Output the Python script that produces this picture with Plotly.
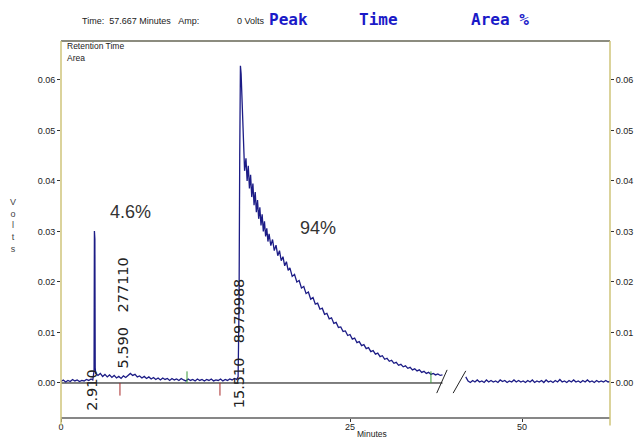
"""Chromatogram trace with a broken time axis."""
import plotly.graph_objects as go

# --- data ------------------------------------------------------------------
# detector trace before the axis break (minutes, volts)
left_t = [
    0.0, 0.2, 0.4, 0.6, 0.8, 1.0, 1.2, 1.4, 1.6, 1.8, 2.0, 2.2, 2.4, 2.6, 2.75,
    2.82, 2.86, 2.89, 2.93, 2.96, 3.0, 3.2, 3.4, 3.6, 3.8, 4.0, 4.2, 4.4, 4.6,
    4.8, 5.0, 5.2, 5.4, 5.6, 5.8, 6.0, 6.2, 6.4, 6.6, 6.8, 7.0, 7.2, 7.4, 7.6,
    7.8, 8.0, 8.2, 8.4, 8.6, 8.8, 9.0, 9.2, 9.4, 9.6, 9.8, 10.0, 10.2, 10.4,
    10.6, 10.8, 11.0, 11.2, 11.4, 11.6, 11.8, 12.0, 12.2, 12.4, 12.6, 12.8,
    13.0, 13.2, 13.4, 13.6, 13.8, 14.0, 14.2, 14.4, 14.6, 14.8, 15.0, 15.2,
    15.32, 15.40, 15.46, 15.52, 15.58, 15.66, 15.76, 15.88, 16.0, 16.1, 16.2,
    16.3, 16.4, 16.5, 16.6, 16.7, 16.8, 16.9, 17.0, 17.1, 17.2, 17.3, 17.4,
    17.5, 17.6, 17.7, 17.8, 17.9, 18.0, 18.15, 18.3, 18.45, 18.6, 18.75, 18.9,
    19.05, 19.2, 19.35, 19.5, 19.65, 19.8, 20.0, 20.2, 20.4, 20.6, 20.8, 21.0,
    21.2, 21.4, 21.6, 21.8, 22.0, 22.2, 22.4, 22.6, 22.8, 23.0, 23.2, 23.4,
    23.6, 23.8, 24.0, 24.2, 24.4, 24.6, 24.8, 25.0, 25.2, 25.4, 25.6, 25.8,
    26.0, 26.2, 26.4, 26.6, 26.8, 27.0, 27.2, 27.4, 27.6, 27.8, 28.0, 28.2,
    28.4, 28.6, 28.8, 29.0, 29.2, 29.4, 29.6, 29.8, 30.0, 30.2, 30.4, 30.6,
    30.8, 31.0, 31.2, 31.4, 31.6, 31.8, 32.0, 32.2, 32.4, 32.6, 32.8, 33.0,
]
left_v = [
    0.0003, 0.0006, 0.0002, 0.0005, 0.0003, 0.0007, 0.0004, 0.0006, 0.0003,
    0.0005, 0.0004, 0.0007, 0.0005, 0.0008, 0.0006,
    0.0020, 0.0024, 0.0301, 0.0285, 0.0030, 0.0019, 0.0015, 0.0019, 0.0013,
    0.0017, 0.0012, 0.0016, 0.0011, 0.0015,
    0.0010, 0.0013, 0.0009, 0.0014, 0.0011, 0.0016, 0.0019, 0.0015, 0.0017,
    0.0012, 0.0014, 0.0010, 0.0013, 0.0009, 0.0012,
    0.0008, 0.0011, 0.0007, 0.0010, 0.0006, 0.0010, 0.0007, 0.0009, 0.0005,
    0.0009, 0.0006, 0.0008, 0.0005, 0.0009,
    0.0006, 0.0004, 0.0008, 0.0005, 0.0007, 0.0004, 0.0008, 0.0005, 0.0007,
    0.0004, 0.0007, 0.0005,
    0.0008, 0.0004, 0.0006, 0.0005, 0.0008, 0.0004, 0.0007, 0.0005, 0.0008,
    0.0006, 0.0009, 0.0007,
    0.0012, 0.0150, 0.0450, 0.0628, 0.0612, 0.0560, 0.0490, 0.0420, 0.0445,
    0.0400, 0.0430,
    0.0385, 0.0412, 0.0368, 0.0395, 0.0352, 0.0378, 0.0338, 0.0362, 0.0325,
    0.0348, 0.0312, 0.0334,
    0.0300, 0.0320, 0.0290, 0.0306, 0.0280, 0.0295, 0.0272, 0.0284, 0.0262,
    0.0273, 0.0252, 0.0262,
    0.0242, 0.0250, 0.0232, 0.0240, 0.0223, 0.0228, 0.0211, 0.0215, 0.0200,
    0.0203, 0.0188, 0.0191,
    0.0177, 0.0180, 0.0166, 0.0169, 0.0156, 0.0158, 0.0146, 0.0148, 0.0136,
    0.0138, 0.0127, 0.0129,
    0.0118, 0.0120, 0.0110, 0.0111, 0.0102, 0.0103, 0.0094, 0.0096, 0.0087,
    0.0089, 0.0080, 0.0082,
    0.0074, 0.0076, 0.0068, 0.0070, 0.0062, 0.0064, 0.0057, 0.0059, 0.0052,
    0.0054, 0.0047, 0.0049,
    0.0043, 0.0045, 0.0039, 0.0041, 0.0035, 0.0037, 0.0032, 0.0034, 0.0029,
    0.0031, 0.0026, 0.0028,
    0.0024, 0.0026, 0.0021, 0.0023, 0.0019, 0.0021, 0.0017, 0.0019, 0.0016,
    0.0018, 0.0015, 0.0016,
]

# detector trace after the axis break
right_t = [
    45.1, 45.3, 45.5, 45.7, 45.9, 46.1, 46.3, 46.5, 46.7, 46.9, 47.1, 47.3,
    47.5, 47.7, 47.9, 48.1, 48.3, 48.5, 48.7, 48.9, 49.1, 49.3, 49.5, 49.7,
    49.9, 50.1, 50.3, 50.5, 50.7, 50.9, 51.1, 51.3, 51.5, 51.7, 51.9, 52.1,
    52.3, 52.5, 52.7, 52.9, 53.1, 53.3, 53.5, 53.7, 53.9, 54.1, 54.3, 54.5,
    54.7, 54.9, 55.1, 55.3, 55.5, 55.7, 55.9, 56.1, 56.3, 56.5, 56.7, 56.9,
    57.1, 57.3, 57.5, 57.667,
]
right_v = [
    0.0012, 0.0004, 0.0001, 0.0005, 0.0002, 0.0006, 0.0002, 0.0004, 0.0001,
    0.0006, 0.0002, 0.0005, 0.0002, 0.0004, 0.0001, 0.0006, 0.0003, 0.0005,
    0.0001, 0.0004, 0.0002, 0.0006, 0.0002, 0.0005, 0.0002, 0.0004, 0.0001,
    0.0005, 0.0002, 0.0006, 0.0001, 0.0004, 0.0002, 0.0005, 0.0001, 0.0006,
    0.0002, 0.0004, 0.0001, 0.0005, 0.0002, 0.0007, 0.0002, 0.0004, 0.0001,
    0.0005, 0.0002, 0.0006, 0.0002, 0.0004, 0.0001, 0.0005, 0.0002, 0.0006,
    0.0002, 0.0004, 0.0001, 0.0005, 0.0002, 0.0004, 0.0002, 0.0005, 0.0002,
    0.0003,
]

# integration baseline and event markers (minutes)
baseline_t = [0.0, 33.0]
baseline_v = [0.0, 0.0]
red_marks = [5.10, 13.75]
green_marks = [10.9, 32.0]

# peak labels: retention time and area counts
peak_times = [2.91, 5.59, 15.51]
time_labels = ["2.910", "5.590", "15.510"]
area_labels = ["", "277110", "8979988"]
area_pct = ["4.6%", "94%"]

y_ticks = [0.0, 0.01, 0.02, 0.03, 0.04, 0.05, 0.06]
y_range = [-0.00693, 0.0677]

TRACE = "#1c1c86"
OLIVE = "#cfc57a"
FONT = "Liberation Sans, Arial, sans-serif"

fig = go.Figure()

fig.add_trace(go.Scatter(x=baseline_t, y=baseline_v, mode="lines",
                         line=dict(color="#000000", width=1), xaxis="x", yaxis="y"))
fig.add_trace(go.Scatter(x=left_t, y=left_v, mode="lines",
                         line=dict(color=TRACE, width=1.3), xaxis="x", yaxis="y"))
fig.add_trace(go.Scatter(x=right_t, y=right_v, mode="lines",
                         line=dict(color=TRACE, width=1.3), xaxis="x2", yaxis="y"))
# invisible trace so the right-hand axis is drawn
fig.add_trace(go.Scatter(x=[50], y=[0], mode="markers", marker=dict(opacity=0),
                         xaxis="x2", yaxis="y2", hoverinfo="skip"))

shapes = []
for t in red_marks:
    shapes.append(dict(type="line", xref="x", yref="y", x0=t, x1=t, y0=0, y1=-0.0025,
                       line=dict(color="#a82828", width=1)))
for t in green_marks:
    shapes.append(dict(type="line", xref="x", yref="y", x0=t, x1=t, y0=0, y1=0.0023,
                       line=dict(color="#3a9a3a", width=1)))

# axis-break slashes
shapes.append(dict(type="line", xref="x", yref="y", x0=32.5, x1=33.4, y0=-0.002, y1=0.0026,
                   line=dict(color="#222222", width=1)))
shapes.append(dict(type="line", xref="x2", yref="y", x0=44.0, x1=45.1, y0=-0.002, y1=0.0024,
                   line=dict(color="#222222", width=1)))

# frame round the plot area
shapes += [
    dict(type="line", xref="paper", yref="paper", x0=0, x1=1, y0=1, y1=1,
         line=dict(color="#666655", width=1.5)),
    dict(type="line", xref="paper", yref="paper", x0=0, x1=1, y0=0, y1=0,
         line=dict(color="#111111", width=1.2)),
    dict(type="line", xref="paper", yref="paper", x0=0, x1=0, y0=-0.02, y1=1,
         line=dict(color=OLIVE, width=1.5)),
    dict(type="line", xref="paper", yref="paper", x0=1, x1=1, y0=-0.02, y1=1,
         line=dict(color=OLIVE, width=1.5)),
]

small = dict(family=FONT, size=9, color="#222222")
annotations = [
    dict(text="Time:\u00a0\u00a057.667 Minutes\u00a0\u00a0\u00a0Amp:", x=0.034, y=1.053,
         xref="paper", yref="paper", xanchor="left", yanchor="middle", showarrow=False, font=small),
    dict(text="0 Volts", x=0.375, y=1.053, xref="paper", yref="paper", xanchor="right",
         yanchor="middle", showarrow=False, font=small),
    dict(text="Retention Time", x=0.008, y=0.986, xref="paper", yref="paper", xanchor="left",
         yanchor="middle", showarrow=False, font=dict(family=FONT, size=8.5, color="#222222")),
    dict(text="Area", x=0.008, y=0.955, xref="paper", yref="paper", xanchor="left",
         yanchor="middle", showarrow=False, font=dict(family=FONT, size=8.5, color="#222222")),
    dict(text="V<br>o<br>l<br>t<br>s", x=-0.096, y=0.51, xref="paper", yref="paper",
         showarrow=False, font=dict(family=FONT, size=9, color="#444444")),
    dict(text="Minutes", x=0.567, y=-0.062, xref="paper", yref="paper", yanchor="bottom",
         showarrow=False, font=dict(family=FONT, size=8.5, color="#222222")),
]

header = dict(family="DejaVu Sans Mono, monospace", size=16, color="#1a1ac8", weight="bold")
for label, px in zip(["Peak", "Time", "Area %"], [0.376, 0.540, 0.744]):
    annotations.append(dict(text=label, x=px, y=1.058, xref="paper", yref="paper",
                            xanchor="left", yanchor="middle", showarrow=False, font=header))

for label, px, py in zip(area_pct, [0.0856, 0.4317], [0.546, 0.504]):
    annotations.append(dict(text=label, x=px, y=py, xref="paper", yref="paper",
                            xanchor="left", yanchor="middle", showarrow=False,
                            font=dict(family=FONT, size=18, color="#333333")))

# rotated retention-time / area labels beside each peak
label_font = dict(family="DejaVu Sans, sans-serif", size=14.5, color="#222222")
for t, tl, al, dx, ty, ay in zip(peak_times, time_labels, area_labels, [-3, -3, -1],
                                 [0.074, 0.186, 0.093], [0.0, 0.353, 0.284]):
    annotations.append(dict(text=tl, x=t, y=ty, xref="x", yref="paper", textangle=-90,
                            xanchor="center", yanchor="middle", xshift=dx,
                            showarrow=False, font=label_font))
    if al:
        annotations.append(dict(text=al, x=t, y=ay, xref="x", yref="paper", textangle=-90,
                                xanchor="center", yanchor="middle", xshift=dx,
                                showarrow=False, font=label_font))

axis_common = dict(showgrid=False, zeroline=False, showline=False, ticks="outside",
                   ticklen=3, tickcolor="#333333", tickfont=small, automargin=False)

fig.update_layout(
    template="none",
    width=636,
    height=441,
    margin=dict(l=61, r=26, t=41, b=23, autoexpand=False),
    paper_bgcolor="#ffffff",
    plot_bgcolor="#ffffff",
    showlegend=False,
    xaxis=dict(domain=[0, 0.705], range=[0, 33.48], tickvals=[0, 25], anchor="y",
               ticklabelstandoff=-3, **axis_common),
    xaxis2=dict(domain=[0.7122, 1], range=[43.9, 57.667], tickvals=[50], anchor="y",
                ticklabelstandoff=-3, **axis_common),
    yaxis=dict(range=y_range, tickvals=y_ticks, tickformat=".2f", **axis_common),
    yaxis2=dict(range=y_range, tickvals=y_ticks, tickformat=".2f", overlaying="y",
                side="right", anchor="x2", **axis_common),
    shapes=shapes,
    annotations=annotations,
)

# the page's default 8px body margin would shift the whole figure
fig.write_html("out.html", config={"displayModeBar": False},
               post_script="document.body.style.margin = '0';")
